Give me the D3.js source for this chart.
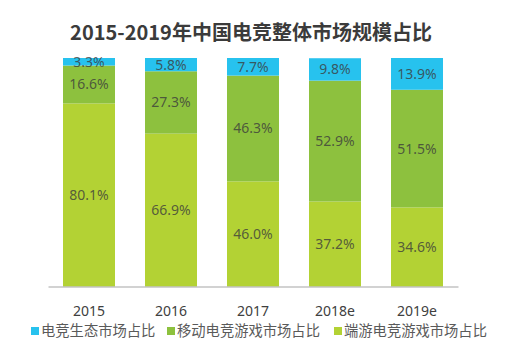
<!DOCTYPE html>
<html><head><meta charset="utf-8">
<script src="https://cdn.jsdelivr.net/npm/d3@7"></script>
<style>
html,body{margin:0;padding:0;background:#fff;}
svg{display:block;font-family:"Noto Sans","Noto Sans CJK SC",sans-serif;}
</style></head>
<body>
<svg id="chart" width="507" height="355"></svg>
<script>
const years = ["2015","2016","2017","2018e","2019e"];
const seriesNames = ["端游电竞游戏市场占比","移动电竞游戏市场占比","电竞生态市场占比"];
const pcGame = [80.1, 66.9, 46.0, 37.2, 34.6];
const mobileGame = [16.6, 27.3, 46.3, 52.9, 51.5];
const ecosystem = [3.3, 5.8, 7.7, 9.8, 13.9];
const legendOrder = ["电竞生态市场占比","移动电竞游戏市场占比","端游电竞游戏市场占比"];
const title = "2015-2019年中国电竞整体市场规模占比";

const colors = {
  "电竞生态市场占比":"#27c2ee",
  "移动电竞游戏市场占比":"#8dc13e",
  "端游电竞游戏市场占比":"#b3d234"
};

const rows = years.map((y,i)=>({year:y,
  "端游电竞游戏市场占比":pcGame[i],
  "移动电竞游戏市场占比":mobileGame[i],
  "电竞生态市场占比":ecosystem[i]}));

const svg = d3.select("#chart");
const x = d3.scaleBand().domain(years).range([48,458]).paddingInner(0.366).paddingOuter(0.183);
const y = d3.scaleLinear().domain([0,100]).range([286.5,58]);

const stack = d3.stack().keys(seriesNames);
const layers = stack(rows);

svg.append("text").attr("x",251).attr("y",40).attr("text-anchor","middle")
  .attr("font-size",20).attr("font-weight","bold").attr("fill","#3b3b3b")
  .style("font-family",'"Noto Sans CJK SC","Noto Sans",sans-serif')
  .text(title);

const g = svg.append("g");
layers.forEach(layer=>{
  const key = layer.key;
  g.selectAll(null).data(layer).enter().append("rect")
    .attr("x",d=>x(d.data.year))
    .attr("width",x.bandwidth())
    .attr("y",d=>y(d[1]))
    .attr("height",d=>y(d[0])-y(d[1]))
    .attr("fill",colors[key]);
  g.selectAll(null).data(layer).enter().append("text")
    .attr("x",d=>x(d.data.year)+x.bandwidth()/2)
    .attr("y",d=>(y(d[0])+y(d[1]))/2)
    .attr("dy","0.35em")
    .attr("text-anchor","middle")
    .attr("font-size",14)
    .attr("fill","#3c3c3c").attr("fill-opacity",0.8)
    .text(d=>d.data[key].toFixed(1)+"%");
});

const axis = d3.axisBottom(x).tickSize(0).tickPadding(20);
const ax = svg.append("g").attr("transform","translate(0,286.5)").call(axis);
ax.select(".domain").attr("stroke","#a6a6a6").attr("stroke-width",1.2);
ax.selectAll("text").attr("font-size",14).attr("fill","#404040")
  .style("font-family",'"Noto Sans",sans-serif');

const legendX = [31, 167, 334];
const lg = svg.append("g");
legendOrder.forEach((name,i)=>{
  lg.append("rect").attr("x",legendX[i]).attr("y",327).attr("width",8).attr("height",8)
    .attr("fill",colors[name]);
  lg.append("text").attr("x",legendX[i]+10).attr("y",331).attr("dy","0.36em")
    .attr("font-size",14.3).attr("fill","#5a5a5a")
    .style("font-family",'"Noto Sans CJK SC",sans-serif')
    .text(name);
});
</script>
</body></html>
